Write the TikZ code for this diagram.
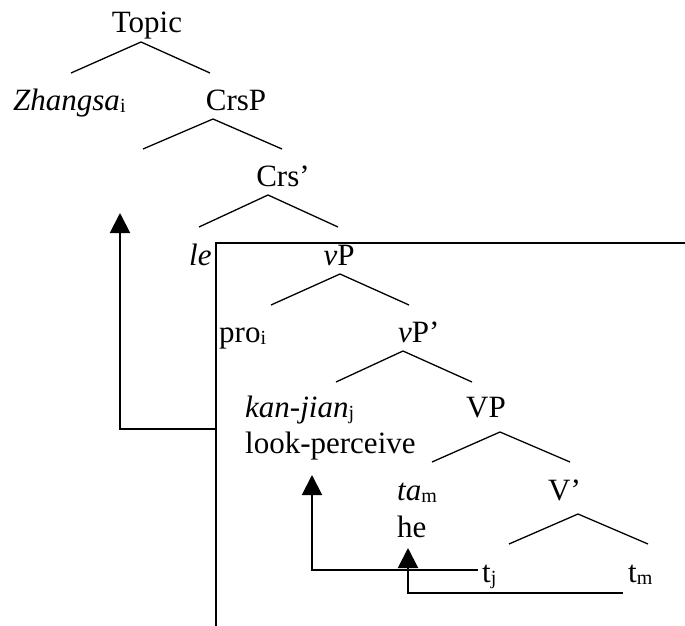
\documentclass[tikz,border=0pt]{standalone}
\usepackage{fontspec}
\setmainfont{Liberation Serif}
\usetikzlibrary{arrows.meta}
\newcommand{\sbs}[1]{\raisebox{-2pt}{\fontsize{20}{20}\selectfont #1}}
\tikzset{
  lbl/.style={inner sep=0pt, font=\fontsize{31}{36}\selectfont},
  branch/.style={line width=1.3pt},
  mv/.style={line width=2pt},
  mvarrow/.style={line width=2pt, -{Triangle[width=20pt,length=20pt]}}
}
\begin{document}
\begin{tikzpicture}[x=1pt,y=-1pt]
\useasboundingbox (0,0) rectangle (685,626);
% labels
\node[lbl,anchor=base] (topic) at (147,33) {Topic};
\node[lbl,anchor=base west] (zh) at (13,110) {\textit{Zhangsa}\sbs{i}};
\node[lbl,anchor=base] (crsp) at (236,110) {CrsP};
\node[lbl,anchor=base] (crsbar) at (283,186) {Crs’};
\node[lbl,anchor=base west] (le) at (189,265) {\textit{le}};
\node[lbl,anchor=base] (vp) at (339,265) {\textit{v}P};
\node[lbl,anchor=base west] (pro) at (219,342) {pro\sbs{i}};
\node[lbl,anchor=base west] (vpbar) at (398,342) {\textit{v}P’};
\node[lbl,anchor=base west] (kan) at (245,417) {\textit{kan-jian}\sbs{j}};
\node[lbl,anchor=base] (VP) at (486,417) {VP};
\node[lbl,anchor=base west] (look) at (245,453) {look-perceive};
\node[lbl,anchor=base west] (ta) at (397,500) {\textit{ta}\sbs{m}};
\node[lbl,anchor=base west] (vbar) at (548,500) {V’};
\node[lbl,anchor=base west] (he) at (397,537) {he};
\node[lbl,anchor=base west] (tj) at (482,582) {t\sbs{j}};
\node[lbl,anchor=base west] (tm) at (628,582) {t\sbs{m}};
% branch coordinates
\coordinate (a1) at (141,42); \coordinate (a1l) at (71,73); \coordinate (a1r) at (210,73);
\coordinate (a2) at (213,119); \coordinate (a2l) at (143,149); \coordinate (a2r) at (282,149);
\coordinate (a3) at (268,195); \coordinate (a3l) at (199,227); \coordinate (a3r) at (338,227);
\coordinate (a4) at (340,274); \coordinate (a4l) at (271,305); \coordinate (a4r) at (409,305);
\coordinate (a5) at (403,351); \coordinate (a5l) at (336,382); \coordinate (a5r) at (472,382);
\coordinate (a6) at (500,432); \coordinate (a6l) at (432,462); \coordinate (a6r) at (570,462);
\coordinate (a7) at (578,514); \coordinate (a7l) at (509,544); \coordinate (a7r) at (648,544);
\foreach \n in {1,...,7}{\draw[branch] (a\n l) -- (a\n) -- (a\n r);}
% box
\coordinate (bxr) at (685,243); \coordinate (bxc) at (216,243); \coordinate (bxb) at (216,626);
\draw[mv] (bxr) -- (bxc) -- (bxb);
% movement arrows
\coordinate (m1s) at (216,429); \coordinate (m1c) at (120,429); \coordinate (m1t) at (120,213);
\draw[mvarrow] (m1s) -- (m1c) -- (m1t);
\coordinate (m2s) at (478,570); \coordinate (m2c) at (312,570); \coordinate (m2t) at (312,475);
\draw[mvarrow] (m2s) -- (m2c) -- (m2t);
\coordinate (m3s) at (623,593); \coordinate (m3c) at (408,593); \coordinate (m3t) at (408,548);
\draw[mvarrow] (m3s) -- (m3c) -- (m3t);
\end{tikzpicture}
\end{document}
